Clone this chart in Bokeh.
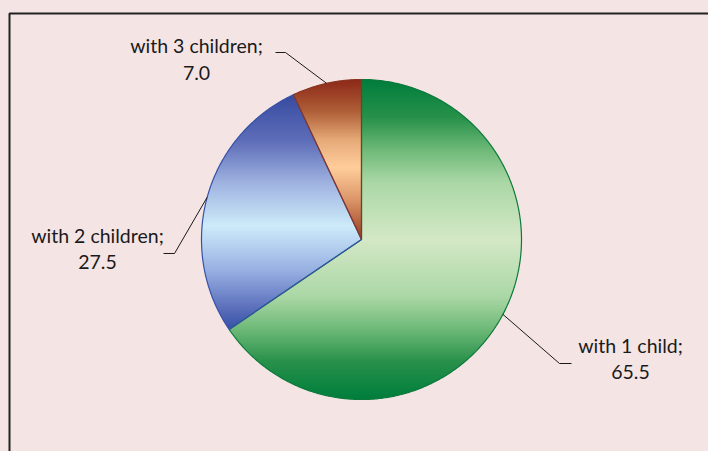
import numpy as np
from bokeh.plotting import figure
from bokeh.models import Range1d, GlobalInlineStyleSheet
from bokeh.core.properties import value
from bokeh.embed import file_html
from bokeh.resources import INLINE

# ---- data ----
categories = ["with 1 child", "with 2 children", "with 3 children"]
values = [65.5, 27.5, 7.0]
value_labels = ["65.5", "27.5", "7.0"]

# ---- layout (page px, y up) ----
W, H = 708, 451
CX, CY, R = 361.0, 212.0, 160.0
label_x = [630, 97, 196]
label_y1 = [106, 216, 406]
label_y2 = [80, 190, 379]
elbow_x = [559, 174, 285]
elbow_y = [88, 198, 399]
tail_x = [571, 163, 275]

BG = "#F5E4E4"

# gradient stops per slice (t: 0 = top of slice, 1 = bottom)
grad_stops = [
    [(0.0, (0, 125, 60)), (0.12, (40, 145, 75)), (0.22, (110, 185, 120)),
     (0.32, (170, 215, 165)), (0.5, (212, 232, 198)), (0.68, (170, 215, 165)),
     (0.78, (110, 185, 120)), (0.88, (40, 145, 75)), (1.0, (0, 125, 60))],
    [(0.0, (55, 75, 160)), (0.2, (95, 110, 185)), (0.38, (160, 180, 225)),
     (0.56, (205, 235, 250)), (0.75, (150, 175, 225)), (0.9, (95, 115, 190)),
     (1.0, (55, 80, 165))],
    [(0.0, (140, 40, 25)), (0.2, (175, 95, 55)), (0.38, (230, 170, 120)),
     (0.55, (255, 205, 155)), (0.75, (220, 150, 105)), (0.9, (180, 95, 60)),
     (1.0, (150, 55, 30))],
]
edge_colors = ["#0C7A3C", "#3552A8", "#8B3520"]


def grad_color(stops, t):
    t = min(max(t, 0.0), 1.0)
    for (t0, c0), (t1, c1) in zip(stops[:-1], stops[1:]):
        if t0 <= t <= t1:
            f = (t - t0) / (t1 - t0) if t1 > t0 else 0
            c = [int(round(a + (b - a) * f)) for a, b in zip(c0, c1)]
            return "#%02x%02x%02x" % tuple(c)
    c = stops[-1][1]
    return "#%02x%02x%02x" % tuple(c)


def clip_half(poly, yc, keep_above):
    out = []
    n = len(poly)
    def inside(p):
        return p[1] >= yc if keep_above else p[1] <= yc
    for i in range(n):
        cur = poly[i]
        prev = poly[i - 1]
        ci, pi = inside(cur), inside(prev)
        if ci:
            if not pi:
                f = (yc - prev[1]) / (cur[1] - prev[1])
                out.append((prev[0] + f * (cur[0] - prev[0]), yc))
            out.append(cur)
        elif pi:
            f = (yc - prev[1]) / (cur[1] - prev[1])
            out.append((prev[0] + f * (cur[0] - prev[0]), yc))
    return out


total = sum(values)
starts = []
acc = 0.0
for v in values:
    starts.append(90.0 - acc / total * 360.0)
    acc += v
ends = [s - v / total * 360.0 for s, v in zip(starts, values)]

p = figure(width=W, height=H, output_backend="svg", toolbar_location=None,
           x_range=Range1d(0, W), y_range=Range1d(0, H),
           min_border=0, min_border_left=0, min_border_right=0,
           min_border_top=0, min_border_bottom=0)
p.axis.visible = False
p.grid.visible = False
p.outline_line_color = None
p.background_fill_color = BG
p.border_fill_color = BG
p.stylesheets = [GlobalInlineStyleSheet(
    css="html,body{background:%s;margin:0;padding:0;overflow:hidden;}" % BG)]

band_xs, band_ys, band_cols = [], [], []
out_xs, out_ys = [], []
for i, (a0, a1) in enumerate(zip(starts, ends)):
    n = max(12, int(abs(a0 - a1) * 2))
    ang = np.radians(np.linspace(a0, a1, n))
    poly = [(CX, CY)] + [(CX + R * np.cos(a), CY + R * np.sin(a)) for a in ang]
    out_xs.append([q[0] for q in poly])
    out_ys.append([q[1] for q in poly])
    ys_ = [q[1] for q in poly]
    ymin, ymax = min(ys_), max(ys_)
    yb = np.floor(ymin)
    while yb < ymax:
        sub = clip_half(poly, yb, True)
        if sub:
            sub = clip_half(sub, yb + 1.7, False)
        if len(sub) >= 3:
            t = (ymax - (yb + 0.5)) / (ymax - ymin)
            band_xs.append([q[0] for q in sub])
            band_ys.append([q[1] for q in sub])
            band_cols.append(grad_color(grad_stops[i], t))
        yb += 1.0

p.patches(band_xs, band_ys, fill_color=band_cols, line_color=None)
p.patches(out_xs, out_ys, fill_color=None, line_color=edge_colors, line_width=1.2)

# leader lines
lx, ly = [], []
for i, (a0, a1) in enumerate(zip(starts, ends)):
    mid = np.radians((a0 + a1) / 2)
    ex, ey = CX + R * np.cos(mid), CY + R * np.sin(mid)
    lx.append([ex, elbow_x[i], tail_x[i]])
    ly.append([ey, elbow_y[i], elbow_y[i]])
p.multi_line(lx, ly, line_color="#1a1a1a", line_width=1)

line1 = [c + ";" for c in categories]
p.text(label_x, label_y1, text=line1, text_align="center", text_baseline="alphabetic",
       text_font=value("Lato"), text_font_size="19.5px", text_color="#1a1a1a")
p.text(label_x, label_y2, text=value_labels, text_align="center", text_baseline="alphabetic",
       text_font=value("Lato"), text_font_size="19.5px", text_color="#1a1a1a")

# chart border (left and top visible; right/bottom run off the page)
p.line([9, 9, W + 10], [-10, 438, 438], line_color="#222222", line_width=2)

open("out.html", "w").write(file_html(p, INLINE))
